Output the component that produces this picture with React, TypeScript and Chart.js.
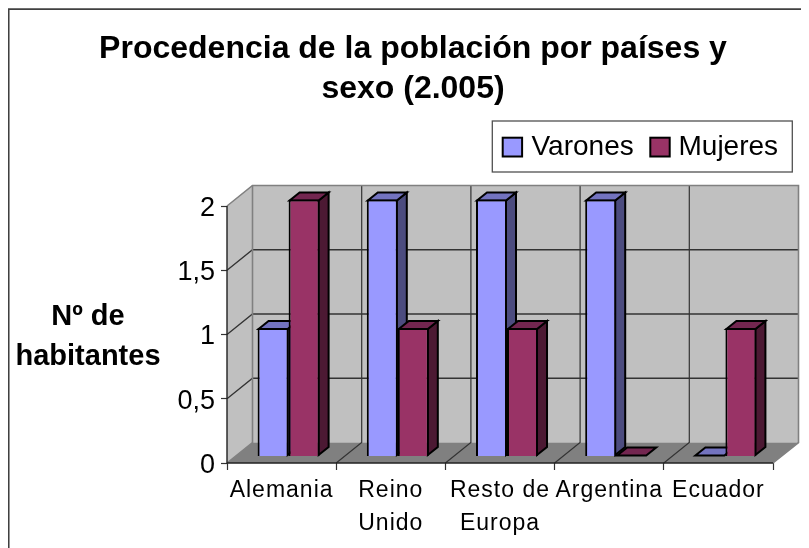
import React, { useEffect, useRef } from "react";
import { Chart, registerables } from "chart.js";

Chart.register(...registerables);

const titleLines = ["Procedencia de la población por países y", "sexo (2.005)"];
const categories = [["Alemania"], ["Reino", "Unido"], ["Resto de", "Europa"], ["Argentina"], ["Ecuador"]];
const varones = [1, 2, 2, 2, 0];
const mujeres = [2, 1, 1, 0, 1];
const yTitleLines = ["Nº de", "habitantes"];

const FONT = '"Liberation Sans", Arial, sans-serif';
const WALL_DX = 25.5;
const WALL_DY = 20.5;
const BAR_OFFSET_X = 7;
const BAR_OFFSET_Y = -6.5;
const BAR_DX = 10;
const BAR_DY = 8;

const palette = [
  { front: "#9999FF", side: "#4C4C7F", top: "#7373BF" },
  { front: "#993366", side: "#4C1933", top: "#732650" },
];

function poly(ctx: CanvasRenderingContext2D, pts: number[][], fill?: string, stroke?: string, lw = 1) {
  ctx.beginPath();
  pts.forEach((p, i) => (i ? ctx.lineTo(p[0], p[1]) : ctx.moveTo(p[0], p[1])));
  if (fill) {
    ctx.closePath();
    ctx.fillStyle = fill;
    ctx.fill();
  }
  if (stroke) {
    ctx.strokeStyle = stroke;
    ctx.lineWidth = lw;
    ctx.lineJoin = "miter";
    ctx.stroke();
  }
}

const scene3d = {
  id: "scene3d",
  afterLayout(chart: any) {
    const t = chart.titleBlock;
    t.left = 11;
    t.right = 799;
    const x = chart.scales.x;
    if (!x._spaced) {
      x._spaced = true;
      const orig = x.drawLabels;
      x.drawLabels = function (area: any) {
        const ctx = this.ctx;
        ctx.letterSpacing = "1px";
        orig.call(this, area);
        ctx.letterSpacing = "0px";
      };
    }
  },
  beforeDraw(chart: any) {
    const ctx = chart.ctx;
    ctx.save();
    ctx.beginPath();
    ctx.moveTo(0.75, chart.height);
    ctx.lineTo(0.75, 1.1);
    ctx.lineTo(chart.width, 1.1);
    ctx.strokeStyle = "#404040";
    ctx.lineWidth = 1.6;
    ctx.stroke();

    // legend
    ctx.strokeStyle = "#505050";
    ctx.lineWidth = 1.3;
    ctx.strokeRect(484.3, 113, 300, 51);
    ctx.font = `28px ${FONT}`;
    ctx.textBaseline = "alphabetic";
    ctx.textAlign = "left";
    const swatches = [494.7, 642.3];
    const labelsX = [523.5, 670.5];
    chart.data.datasets.forEach((ds: any, i: number) => {
      ctx.fillStyle = ds.backgroundColor;
      ctx.fillRect(swatches[i], 129.7, 19.4, 18.8);
      ctx.strokeStyle = "#000";
      ctx.lineWidth = 2;
      ctx.strokeRect(swatches[i], 129.7, 19.4, 18.8);
      ctx.fillStyle = "#000";
      ctx.fillText(ds.label, labelsX[i], 147);
    });

    // y title
    ctx.font = `bold 29px ${FONT}`;
    ctx.textAlign = "center";
    ctx.fillStyle = "#000";
    yTitleLines.forEach((s, i) => ctx.fillText(s, 80, 317 + i * 40));
    ctx.restore();
  },
  beforeDatasetsDraw(chart: any) {
    const ctx = chart.ctx;
    const { x: xs, y: ys } = chart.scales;
    const a = chart.chartArea;
    const dx = WALL_DX;
    const dy = WALL_DY;
    const catW = a.width / categories.length;
    ctx.save();
    // walls
    poly(ctx, [[a.left, a.top], [a.left + dx, a.top - dy], [a.left + dx, a.bottom - dy], [a.left, a.bottom]], "#C0C0C0");
    poly(ctx, [[a.left + dx, a.top - dy], [a.right + dx, a.top - dy], [a.right + dx, a.bottom - dy], [a.left + dx, a.bottom - dy]], "#C0C0C0");
    poly(ctx, [[a.left, a.bottom], [a.left + dx, a.bottom - dy], [a.right + dx, a.bottom - dy], [a.right, a.bottom]], "#808080");
    // horizontal grid
    ys.ticks.forEach((t: any) => {
      const py = ys.getPixelForValue(t.value);
      if (t.value > ys.min && t.value < ys.max) {
        poly(ctx, [[a.left, py], [a.left + dx, py - dy], [a.right + dx, py - dy]], undefined, "#333", 1.3);
      }
    });
    // vertical grid and floor diagonals
    xs.ticks.forEach((_: any, i: number) => {
      if (i > 0) {
        const px = xs.getPixelForTick(i) - catW / 2;
        poly(ctx, [[px, a.bottom], [px + dx, a.bottom - dy], [px + dx, a.top - dy]], undefined, "#333", 1.2);
      }
    });
    // wall frame
    poly(ctx, [[a.left, a.top], [a.left + dx, a.top - dy], [a.right + dx, a.top - dy], [a.right + dx, a.bottom - dy], [a.right, a.bottom]], undefined, "#808080", 1.6);
    poly(ctx, [[a.left + dx, a.top - dy], [a.left + dx, a.bottom - dy], [a.left, a.bottom]], undefined, "#808080", 1.6);
    // front edges
    poly(ctx, [[a.left, a.top], [a.left, a.bottom], [a.right, a.bottom]], undefined, "#222", 1.4);

    // bars, series by series so that the right-hand bar overlaps the left-hand one
    ctx.translate(BAR_OFFSET_X, BAR_OFFSET_Y);
    [0, 1].forEach((idx) => {
      const meta = chart.getDatasetMeta(idx);
      const col = palette[idx];
      meta.data.forEach((el: any) => {
        const { x, y, base, width } = el.getProps(["x", "y", "base", "width"]);
        const l = x - width / 2 + 1;
        const r = x + width / 2 - 1;
        const b = base - 1;
        const t = Math.min(y + 1, b);
        if (b > t) {
          poly(ctx, [[r, t], [r + BAR_DX, t - BAR_DY], [r + BAR_DX, b - BAR_DY], [r, b]], col.side, "#000", 2);
        }
        poly(ctx, [[l, t], [l + BAR_DX, t - BAR_DY], [r + BAR_DX, t - BAR_DY], [r, t]], col.top, "#000", 2);
      });
      meta.controller.draw();
    });
    ctx.restore();
    return false;
  },
};

export default function App() {
  const ref = useRef<HTMLCanvasElement | null>(null);
  useEffect(() => {
    const chart = new Chart(ref.current as HTMLCanvasElement, {
      type: "bar",
      data: {
        labels: categories as any,
        datasets: [
          { label: "Varones", data: varones, backgroundColor: palette[0].front, borderColor: "#000", borderWidth: 2 },
          { label: "Mujeres", data: mujeres, backgroundColor: palette[1].front, borderColor: "#000", borderWidth: 2 },
        ],
      },
      options: {
        animation: false,
        responsive: false,
        layout: { padding: { left: 0, right: 36, top: 0, bottom: 0 } },
        datasets: { bar: { categoryPercentage: 0.568, barPercentage: 1 } },
        plugins: {
          legend: { display: false },
          tooltip: { enabled: false },
          title: {
            display: true,
            text: titleLines,
            color: "#000",
            font: { family: FONT, size: 32, weight: "bold", lineHeight: 40 / 32 },
            padding: { top: 21, bottom: 97 },
          },
        },
        scales: {
          x: {
            grid: { offset: true, drawOnChartArea: false, drawTicks: true, tickLength: 7, tickColor: "#333", tickWidth: 1.2 },
            border: { display: false },
            ticks: { color: "#000", font: { family: FONT, size: 23, lineHeight: 33 / 23 }, padding: 4, maxRotation: 0, autoSkip: false },
            afterFit: (s: any) => { s.height = 85; },
          },
          y: {
            min: 0,
            max: 2,
            grid: { drawOnChartArea: false, drawTicks: true, tickLength: 6, tickColor: "#333", tickWidth: 1.2 },
            border: { display: false },
            ticks: { stepSize: 0.5, color: "#000", font: { family: FONT, size: 27 }, padding: 6, labelOffset: 2.5, callback: (v: any) => String(v).replace(".", ",") },
            afterFit: (s: any) => { s.width = 219; },
          },
        },
      } as any,
      plugins: [scene3d as any],
    });
    return () => chart.destroy();
  }, []);
  return (
    <div style={{ width: 801, height: 540, overflow: "hidden" }}>
      <canvas ref={ref} width={801} height={540} style={{ display: "block" }} />
    </div>
  );
}
